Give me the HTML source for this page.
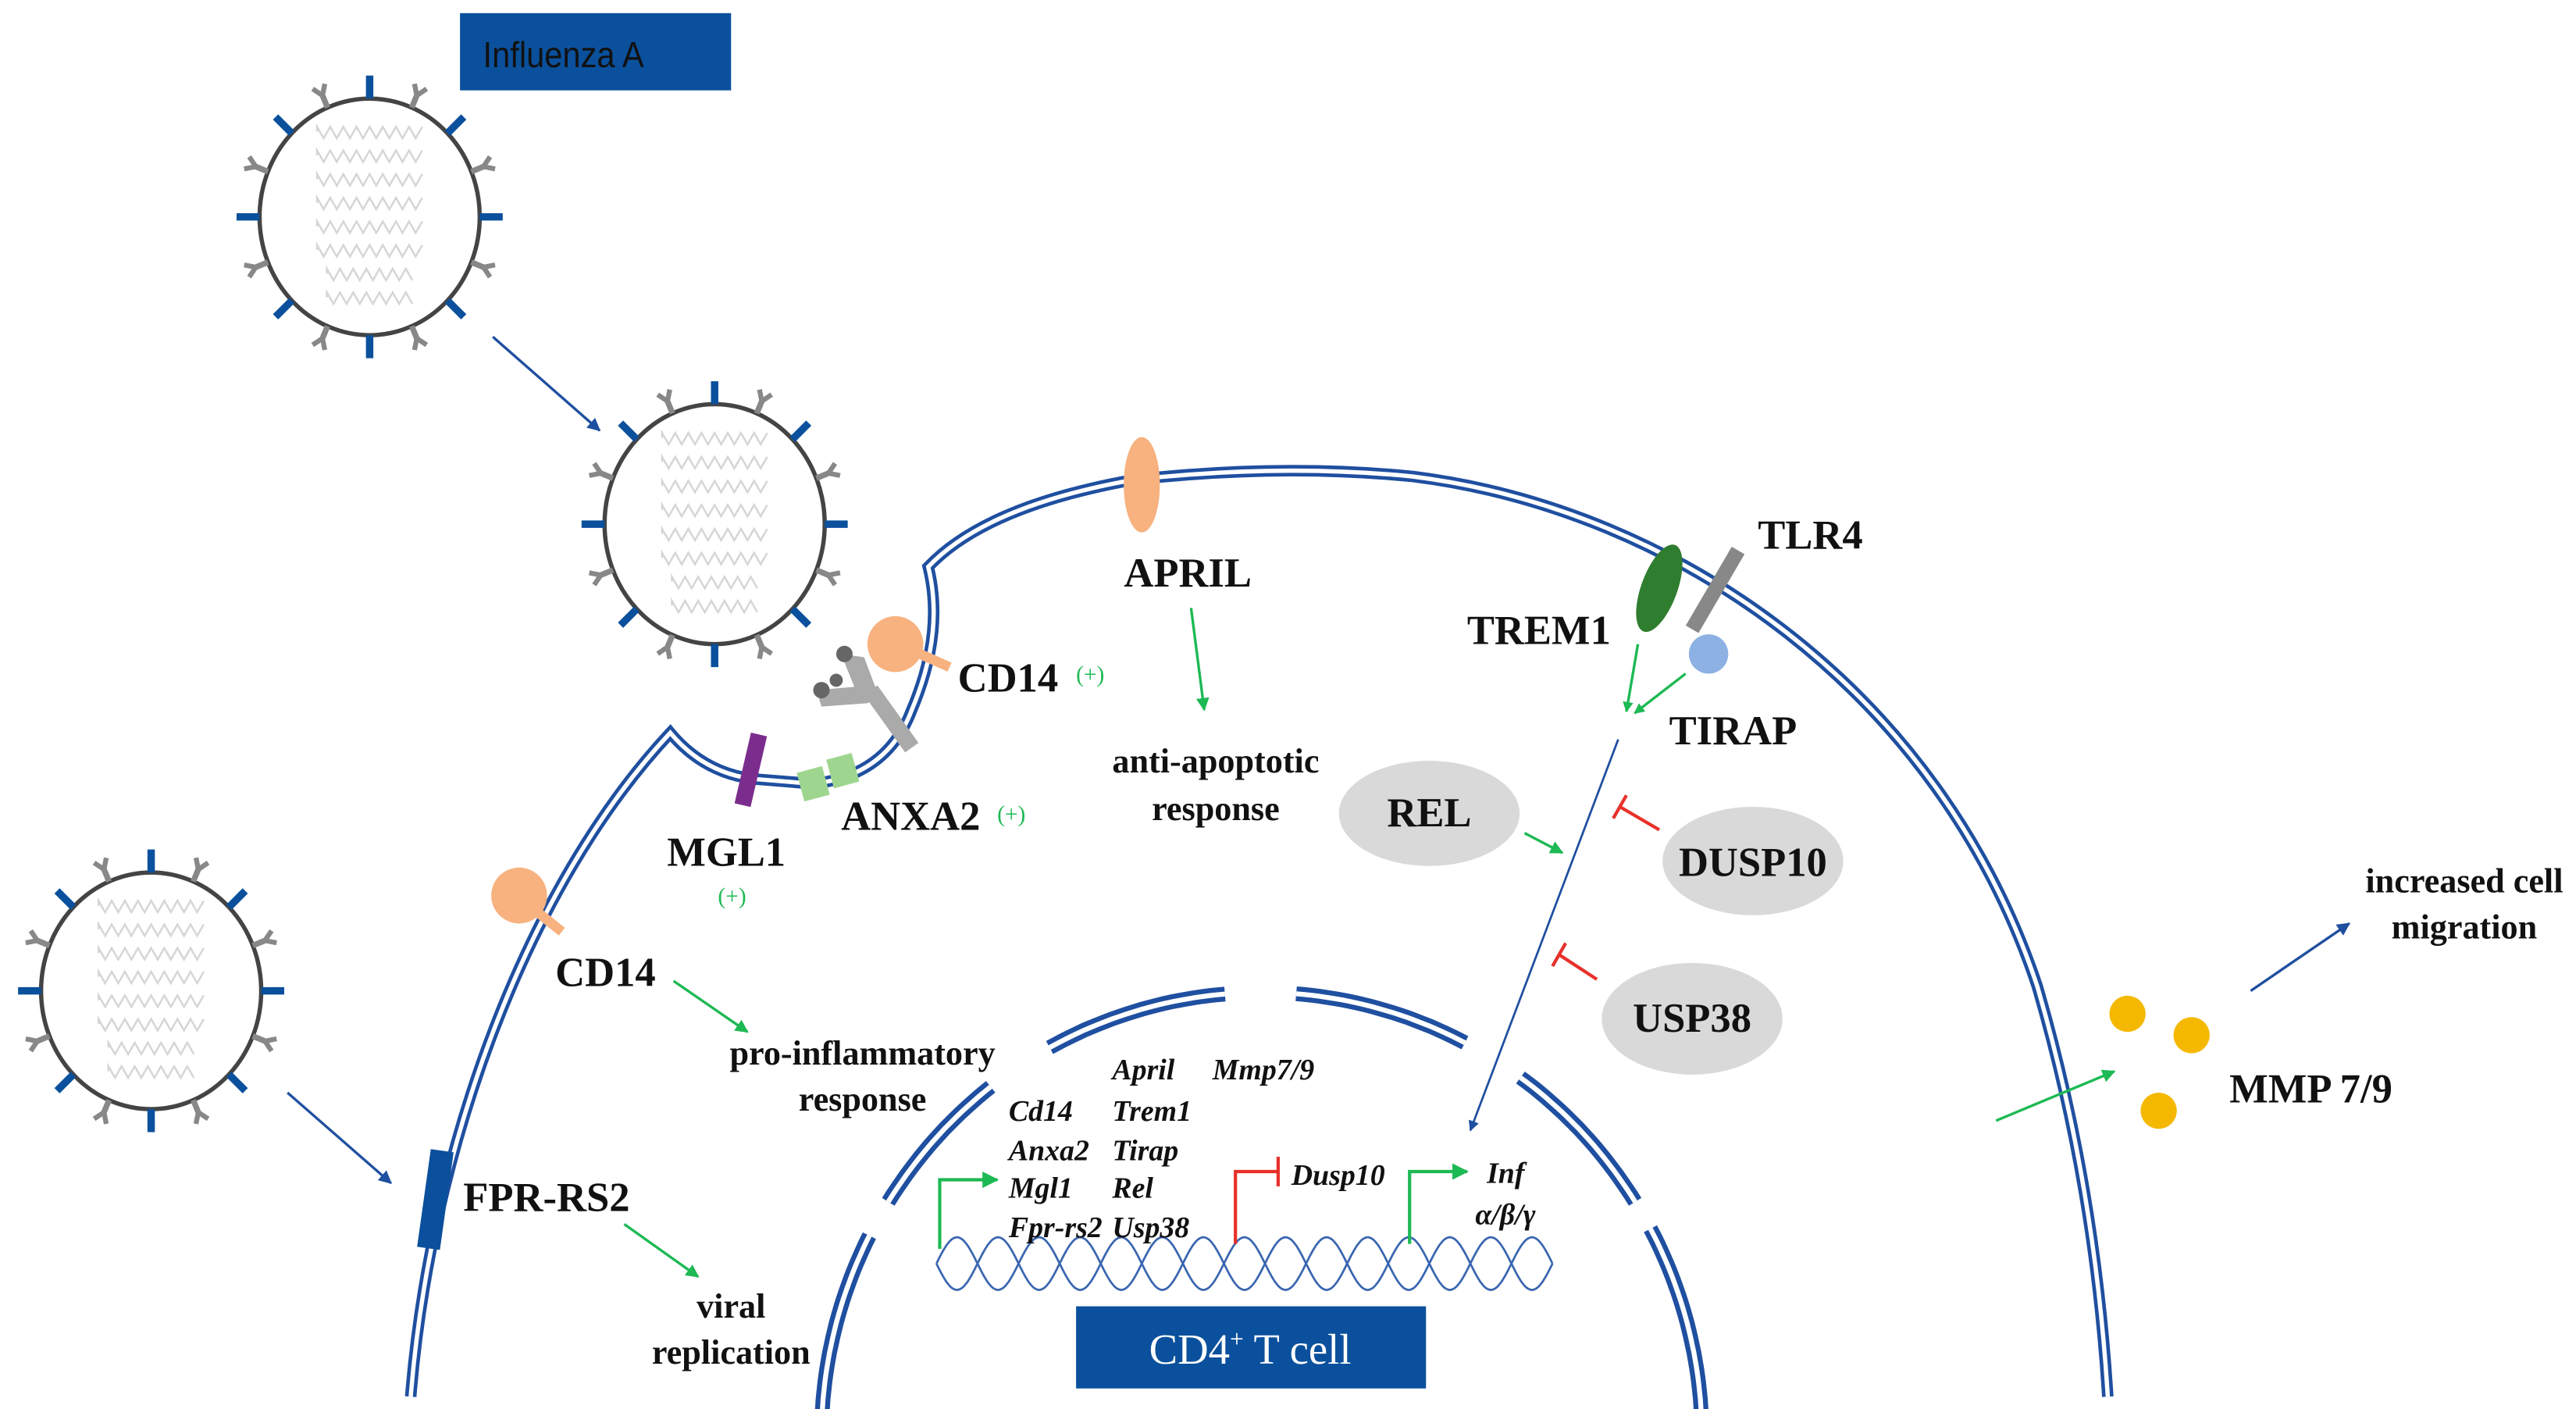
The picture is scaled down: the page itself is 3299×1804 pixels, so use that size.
<!DOCTYPE html>
<html><head><meta charset="utf-8"><style>
html,body{margin:0;padding:0;background:#fff;}
svg{display:block}
text{font-family:"Liberation Serif",serif;font-weight:bold;fill:#111;}
.it{font-style:italic}
.g{fill:#1db954;font-weight:normal}
.w{fill:#fff;font-weight:normal}
</style></head><body>
<svg id="s" width="3299" height="1804" viewBox="0 0 1568 857.5" preserveAspectRatio="none" xmlns="http://www.w3.org/2000/svg">
<defs>
<marker id="ab" viewBox="0 0 10 10" refX="9" refY="5" markerWidth="5" markerHeight="5" orient="auto"><path d="M0,0L10,5L0,10z" fill="#1f4fa0"/></marker>
<marker id="ag" viewBox="0 0 10 10" refX="9" refY="5" markerWidth="5" markerHeight="5" orient="auto"><path d="M0,0L10,5L0,10z" fill="#1db954"/></marker>
<marker id="ag2" viewBox="0 0 10 10" refX="9" refY="5" markerWidth="4" markerHeight="4" orient="auto"><path d="M0,0L10,5L0,10z" fill="#1db954"/></marker>
</defs>
<g fill="none">
<path d="M250,850 C262,700 320,540 408,446 Q428,470 458,474 L495,477 Q540,472 555,432 Q575,385 565,345 Q600,308 690,292 Q780,282 860,290 C1020,310 1180,420 1240,600 Q1275,720 1283,850" stroke="#1f4fa0" stroke-width="7"/>
<path d="M250,850 C262,700 320,540 408,446 Q428,470 458,474 L495,477 Q540,472 555,432 Q575,385 565,345 Q600,308 690,292 Q780,282 860,290 C1020,310 1180,420 1240,600 Q1275,720 1283,850" stroke="#fff" stroke-width="2.6"/>
<g id="nuc"></g>
</g>
<g id="viruses"></g>
<rect x="280" y="8" width="165" height="47" fill="#0a509c"/>
<text x="294" y="41" style="font-family:'Liberation Sans',sans-serif;font-weight:normal;font-size:22px" fill="#111" transform="translate(294,0) scale(0.9,1) translate(-294,0)">Influenza A</text>
<rect x="655" y="795" width="213" height="50" fill="#0a509c"/>
<text x="761" y="830" text-anchor="middle" font-size="26" class="w"><tspan class="w">CD4</tspan><tspan class="w" dy="-10" font-size="15">+</tspan><tspan class="w" dy="10"> T cell</tspan></text>
<ellipse cx="870" cy="495" rx="55" ry="32" fill="#d9d9d9"/>
<ellipse cx="1067" cy="524" rx="55" ry="33" fill="#d9d9d9"/>
<ellipse cx="1030" cy="620" rx="55" ry="34" fill="#d9d9d9"/>
<ellipse cx="695" cy="295" rx="11" ry="29" fill="#f7b27f"/>
<ellipse cx="1010" cy="358" rx="11" ry="28" fill="#2f7d2f" transform="rotate(20 1010 358)"/>
<line x1="1058" y1="335" x2="1030" y2="383" stroke="#888" stroke-width="9"/>
<circle cx="1040" cy="398" r="12" fill="#8db1e3"/>
<line x1="560" y1="398" x2="578" y2="406" stroke="#f7b27f" stroke-width="6"/>
<circle cx="545" cy="392" r="17" fill="#f7b27f"/>
<line x1="327" y1="555" x2="342" y2="567" stroke="#f7b27f" stroke-width="6"/>
<circle cx="316" cy="545" r="17" fill="#f7b27f"/>
<g fill="#aaa"><line x1="530" y1="420" x2="555" y2="455" stroke="#aaa" stroke-width="10"/>
<path d="M512,398 L520,418 L497,420 L500,430 L528,428 L535,424 L526,400z"/>
<circle cx="514" cy="398" r="5" fill="#666"/><circle cx="500" cy="420" r="5" fill="#666"/><circle cx="509" cy="414" r="4" fill="#666"/></g>
<line x1="462" y1="447" x2="452" y2="490" stroke="#7b2d8e" stroke-width="10"/>
<rect x="487" y="468" width="16" height="18" fill="#9fd68f" transform="rotate(-15 495 477)"/>
<rect x="505" y="460" width="16" height="18" fill="#9fd68f" transform="rotate(-15 513 469)"/>
<rect x="258" y="700" width="14" height="60" fill="#0a509c" transform="rotate(8 265 730)"/>
<circle cx="1295" cy="617" r="11" fill="#f5b800"/>
<circle cx="1334" cy="630" r="11" fill="#f5b800"/>
<circle cx="1314" cy="676" r="11" fill="#f5b800"/>
<g id="helix" fill="none" stroke="#3a66b0" stroke-width="1.3"></g>
<g fill="none">
<line x1="300" y1="205" x2="365" y2="262" stroke="#1f4fa0" stroke-width="1.6" marker-end="url(#ab)"/>
<line x1="175" y1="665" x2="238" y2="720" stroke="#1f4fa0" stroke-width="1.6" marker-end="url(#ab)"/>
<line x1="985" y1="450" x2="895" y2="688" stroke="#1f4fa0" stroke-width="1.3" marker-end="url(#ab)"/>
<line x1="1370" y1="603" x2="1430" y2="562" stroke="#1f4fa0" stroke-width="1.6" marker-end="url(#ab)"/>
<g stroke="#1db954" stroke-width="1.6">
<line x1="725" y1="370" x2="733" y2="432" marker-end="url(#ag)"/>
<line x1="410" y1="597" x2="455" y2="628" marker-end="url(#ag)"/>
<line x1="380" y1="745" x2="425" y2="777" marker-end="url(#ag)"/>
<line x1="997" y1="392" x2="990" y2="433" marker-end="url(#ag2)"/>
<line x1="1026" y1="410" x2="995" y2="434" marker-end="url(#ag2)"/>
<line x1="928" y1="507" x2="951" y2="519" marker-end="url(#ag)"/>
<line x1="1215" y1="682" x2="1287" y2="652" marker-end="url(#ag)"/>
<polyline points="572,760 572,718 607,718" marker-end="url(#ag)" stroke-width="2"/>
<polyline points="858,757 858,713 893,713" marker-end="url(#ag)" stroke-width="2"/>
</g>
<g stroke="#e8302a" stroke-width="2">
<polyline points="752,757 752,713 778,713"/><line x1="778" y1="704" x2="778" y2="722"/>
<line x1="1010" y1="505" x2="986" y2="491"/><line x1="982" y1="498" x2="990" y2="484"/>
<line x1="972" y1="596" x2="949" y2="581"/><line x1="945" y1="588" x2="953" y2="574"/>
</g>
</g>
<g font-size="25">
<text x="723" y="357" text-anchor="middle">APRIL</text>
<text x="1070" y="334">TLR4</text>
<text x="893" y="392">TREM1</text>
<text x="1016" y="453">TIRAP</text>
<text x="583" y="421">CD14</text>
<text x="512" y="505">ANXA2</text>
<text x="406" y="527">MGL1</text>
<text x="338" y="600">CD14</text>
<text x="282" y="737">FPR-RS2</text>
<text x="870" y="503" text-anchor="middle">REL</text>
<text x="1067" y="533" text-anchor="middle">DUSP10</text>
<text x="1030" y="628" text-anchor="middle">USP38</text>
<text x="1357" y="671">MMP 7/9</text>
</g>
<g font-size="21" text-anchor="middle">
<text x="740" y="470">anti-apoptotic</text><text x="740" y="499">response</text>
<text x="525" y="648">pro-inflammatory</text><text x="525" y="676">response</text>
<text x="445" y="802">viral</text><text x="445" y="830">replication</text>
<text x="1500" y="543">increased cell</text><text x="1500" y="571">migration</text>
</g>
<g font-size="14">
<text x="655" y="415" class="g">(+)</text>
<text x="607" y="500" class="g">(+)</text>
<text x="437" y="550" class="g">(+)</text>
</g>
<g font-size="18" class="it">
<text x="677" y="657">April</text><text x="738" y="657">Mmp7/9</text>
<text x="614" y="682">Cd14</text><text x="677" y="682">Trem1</text>
<text x="614" y="706">Anxa2</text><text x="677" y="706">Tirap</text>
<text x="614" y="729">Mgl1</text><text x="677" y="729">Rel</text>
<text x="614" y="753">Fpr-rs2</text><text x="677" y="753">Usp38</text>
<text x="786" y="721">Dusp10</text>
<text x="905" y="720">Inf</text><text x="898" y="745">α/β/γ</text>
</g>
</svg>
<script>
var NS="http://www.w3.org/2000/svg";
function el(n,a,p){var e=document.createElementNS(NS,n);for(var k in a)e.setAttribute(k,a[k]);p.appendChild(e);return e;}
var g=document.getElementById('viruses');
function virus(cx,cy,rx,ry){
  for(var r=0;r<8;r++){var y=cy-ry*0.72+r*ry*0.2;var w=r<6?32:26;var d="M"+(cx-w)+","+y;
    for(var i=0;i<=w*2/4;i++){d+=" L"+(cx-w+i*4)+","+(y+(i%2?4:-3));}
    el('path',{d:d,fill:'none',stroke:'#d6d6d6','stroke-width':1.2},g);}
  el('ellipse',{cx:cx,cy:cy,rx:rx,ry:ry,fill:'none',stroke:'#444','stroke-width':2.6},g);
  for(var k=0;k<16;k++){var t=k*Math.PI*2/16;var c=Math.cos(t),s=Math.sin(t);
    var x1=cx+rx*s,y1=cy-ry*c,x2=cx+(rx+14)*s,y2=cy-(ry+14)*c;
    if(k%2==0){el('line',{x1:x1,y1:y1,x2:x2,y2:y2,stroke:'#0a509c','stroke-width':4.5},g);}
    else{var xm=cx+(rx+8)*s,ym=cy-(ry+8)*c;
      el('line',{x1:x1,y1:y1,x2:xm,y2:ym,stroke:'#888','stroke-width':3.5},g);
      var px=-c,py=-s;
      el('line',{x1:xm,y1:ym,x2:x2+px*4,y2:y2+py*4,stroke:'#888','stroke-width':3},g);
      el('line',{x1:xm,y1:ym,x2:x2-px*4,y2:y2-py*4,stroke:'#888','stroke-width':3},g);}
  }
}
virus(225,132,67,72);virus(435,319,67,73);virus(92,603,67,72);
var h=document.getElementById('helix');
for(var ph=0;ph<2;ph++){var d="";for(var x=570;x<=945;x+=1){var y=769+16*Math.sin((x-570)/25*Math.PI+ph*Math.PI);d+=(x==570?"M":"L")+x+","+y.toFixed(1);}
el('path',{d:d},h);}
var n=document.getElementById('nuc');
var segs=[[-88,-63],[-58,-37.5],[-28.8,-4],[4.5,28],[36,58],[62,88]];
var cx=768,cy=875,rx=268,ry=271;
function arc(a,b){var d="";for(var t=a;t<=b+0.01;t+=1){var r=t*Math.PI/180;d+=(t==a?"M":"L")+(cx+rx*Math.sin(r)).toFixed(1)+","+(cy-ry*Math.cos(r)).toFixed(1);}return d;}
segs.forEach(function(s){el('path',{d:arc(s[0],s[1]),stroke:'#1f4fa0','stroke-width':9,fill:'none'},n);});
segs.forEach(function(s){el('path',{d:arc(s[0],s[1]),stroke:'#fff','stroke-width':3,fill:'none'},n);});
</script>
</body></html>
